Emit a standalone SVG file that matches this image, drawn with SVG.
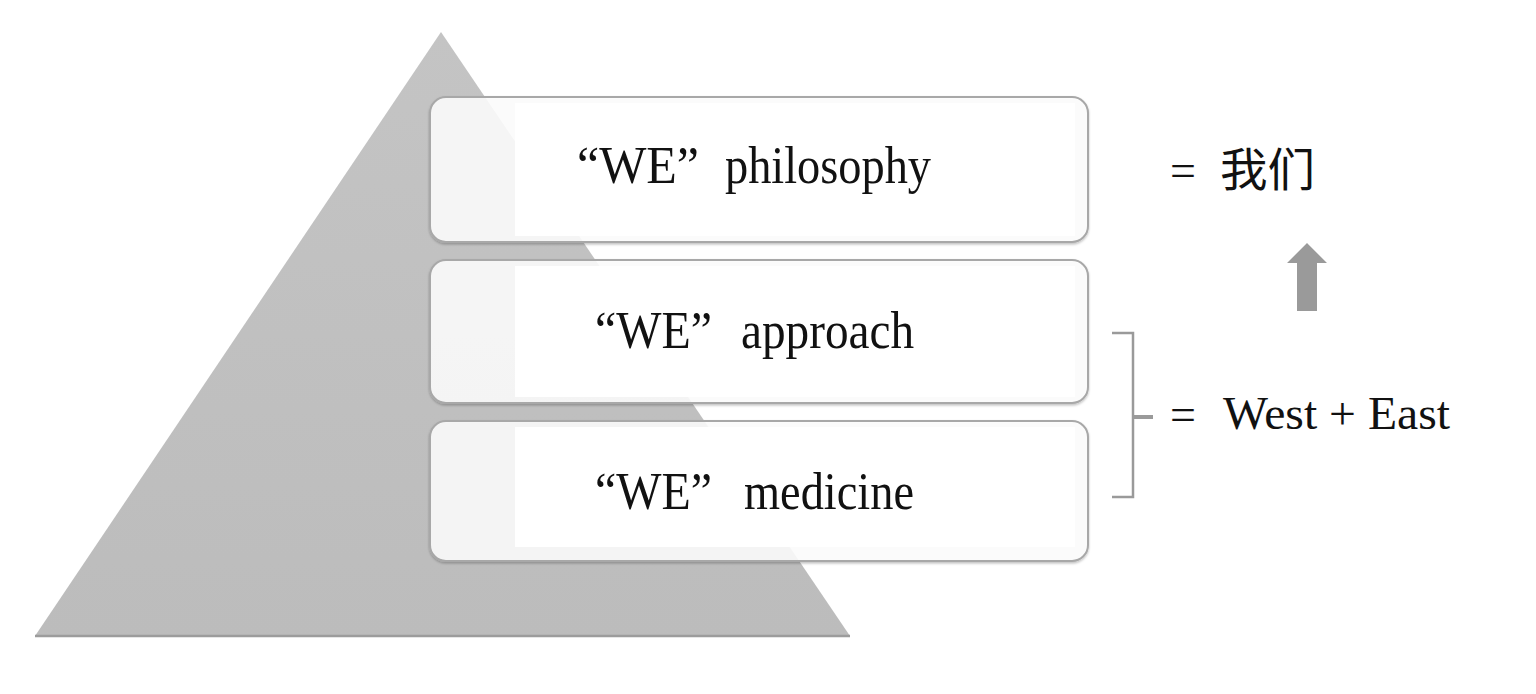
<svg xmlns="http://www.w3.org/2000/svg" width="1536" height="694" viewBox="0 0 1536 694">
  <defs>
    <linearGradient id="triGrad" x1="0" y1="0" x2="0" y2="1">
      <stop offset="0" stop-color="#c4c4c4"/>
      <stop offset="1" stop-color="#bcbcbc"/>
    </linearGradient>
    <filter id="shadow" x="-5%" y="-10%" width="110%" height="125%">
      <feDropShadow dx="0" dy="1.5" stdDeviation="1.2" flood-color="#000" flood-opacity="0.25"/>
    </filter>
    <style>
      .box { fill: #ffffff; fill-opacity: 0.86; stroke: #a8a8a8; stroke-width: 2; }
      .inner { fill: #ffffff; }
      .label { font-family: "Liberation Serif", "Times New Roman", serif; font-size: 52px; fill: #111; }
      .side { font-family: "Liberation Serif", "Noto Sans CJK SC", serif; font-size: 46px; fill: #111; }
      .cjk { font-family: "Noto Sans CJK SC", sans-serif; font-size: 46px; fill: #111; }
      .bracket { fill: none; stroke: #9a9a9a; stroke-width: 2.5; }
    </style>
  </defs>
  <rect width="1536" height="694" fill="#ffffff"/>

  <g id="pyramid">
    <polygon points="441,32 35,636 850,636" fill="url(#triGrad)"/>
    <line x1="35" y1="636" x2="850" y2="636" stroke="#9c9c9c" stroke-width="2.5"/>
  </g>

  <g id="node-philosophy">
    <rect class="box" x="430" y="97" width="658" height="145" rx="16" filter="url(#shadow)"/>
    <rect class="inner" x="515" y="103" width="560" height="133"/>
    <text class="label" x="577" y="183" textLength="122" lengthAdjust="spacingAndGlyphs">“WE”</text>
    <text class="label" x="725" y="183" textLength="206" lengthAdjust="spacingAndGlyphs">philosophy</text>
  </g>

  <g id="node-approach">
    <rect class="box" x="430" y="260" width="658" height="143" rx="16" filter="url(#shadow)"/>
    <rect class="inner" x="515" y="266" width="560" height="131"/>
    <text class="label" x="595" y="348" textLength="117" lengthAdjust="spacingAndGlyphs">“WE”</text>
    <text class="label" x="741" y="348" textLength="173" lengthAdjust="spacingAndGlyphs">approach</text>
  </g>

  <g id="node-medicine">
    <rect class="box" x="430" y="421" width="658" height="140" rx="16" filter="url(#shadow)"/>
    <rect class="inner" x="515" y="427" width="560" height="120"/>
    <text class="label" x="595" y="509" textLength="117" lengthAdjust="spacingAndGlyphs">“WE”</text>
    <text class="label" x="744" y="509" textLength="170" lengthAdjust="spacingAndGlyphs">medicine</text>
  </g>

  <g id="connectors">
    <path class="bracket" d="M1112,333 H1133 V497 H1112"/>
    <line x1="1133" y1="417" x2="1153" y2="417" stroke="#9a9a9a" stroke-width="4"/>
    <polygon points="1307,243 1327,263 1317,263 1317,311 1297,311 1297,263 1287,263" fill="#9a9a9a"/>
  </g>

  <g id="label-women">
    <text class="side" x="1170" y="186">=</text>
    <text class="cjk" x="1220" y="186" textLength="95" lengthAdjust="spacingAndGlyphs">我们</text>
  </g>

  <g id="label-westeast">
    <text class="side" x="1170" y="430">=</text>
    <text class="side" x="1223" y="429" textLength="227" lengthAdjust="spacingAndGlyphs">West + East</text>
  </g>
</svg>
